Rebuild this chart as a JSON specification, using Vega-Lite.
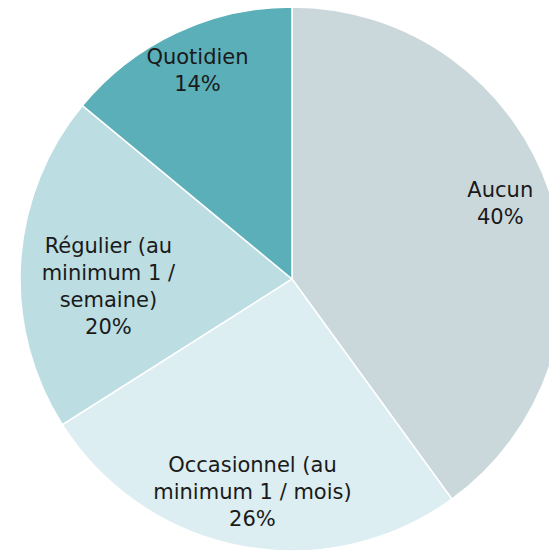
{
  "$schema": "https://vega.github.io/schema/vega-lite/v6.json",
  "width": 584,
  "height": 558,
  "autosize": "none",
  "padding": 0,
  "background": "white",
  "view": {"stroke": null},
  "data": {
    "values": [
      {"cat": "Aucun", "label": "Aucun\n40%", "value": 40, "ord": 1},
      {"cat": "Occasionnel", "label": "Occasionnel (au\nminimum 1 / mois)\n26%", "value": 26, "ord": 2},
      {"cat": "Régulier", "label": "Régulier (au\nminimum 1 /\nsemaine)\n20%", "value": 20, "ord": 3},
      {"cat": "Quotidien", "label": "Quotidien\n14%", "value": 14, "ord": 4}
    ]
  },
  "transform": [
    {"stack": "value", "groupby": [], "sort": [{"field": "ord"}], "as": ["t0", "t1"]},
    {"calculate": "(datum.t0 + datum.t1) / 2", "as": "tmid"}
  ],
  "layer": [
    {
      "mark": {"type": "arc", "outerRadius": 272, "stroke": "white", "strokeWidth": 1.5},
      "encoding": {
        "theta": {"field": "t0", "type": "quantitative", "scale": {"domain": [0, 100]}},
        "theta2": {"field": "t1"},
        "color": {
          "field": "cat",
          "type": "nominal",
          "scale": {
            "domain": ["Aucun", "Occasionnel", "Régulier", "Quotidien"],
            "range": ["#CBD8DB", "#DCEEF1", "#BCDDE2", "#5BAFB8"]
          },
          "legend": null
        }
      }
    },
    {
      "mark": {"type": "text", "dy": -20, "lineBreak": "\n", "font": "DejaVu Sans", "fontSize": 21, "lineHeight": 27, "color": "#1a1a1a", "align": "center", "baseline": "middle"},
      "encoding": {
        "theta": {"field": "tmid", "type": "quantitative", "scale": {"domain": [0, 100]}},
        "text": {"field": "label", "type": "nominal"},
        "radius": {
          "field": "ord",
          "type": "quantitative",
          "scale": {
            "type": "linear",
            "zero": false,
            "domain": [1, 2, 3, 4],
            "range": [219, 211, 184, 222]
          },
          "legend": null
        }
      }
    }
  ]
}
